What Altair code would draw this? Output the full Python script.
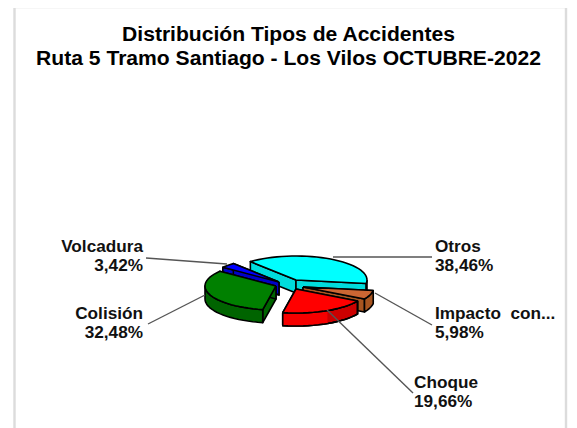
import math
import altair as alt
import pandas as pd

# ---- data ----
names = ["Otros", "Impacto\u00a0\u00a0con...", "Choque", "Colisión", "Volcadura"]
values = [38.46, 5.98, 19.66, 32.48, 3.42]
title_lines = ["Distribución Tipos de Accidentes", "Ruta 5 Tramo Santiago - Los Vilos OCTUBRE-2022"]

# ---- styling / layout ----
top_colors = ["#00ffff", "#cc6633", "#ff0000", "#008000", "#0000ff"]
wall_colors = ["#00dcdc", "#a85520", "#cc0000", "#006400", "#0000c8"]
wall_light = ["#00dcdc", "#a85520", "#f60000", "#007400", "#0000c8"]
apex_x = [296, 303, 296, 276, 279]
apex_y = [280, 287, 289, 286, 282]
draw_order = [0, 4, 3, 1, 2]
label_x = [435, 435, 414, 143, 143]
label_y = [247, 314, 383, 314, 247]
label_align = ["left", "left", "left", "right", "right"]
leader_from_x = [333, 375, 327, 205, 227]
leader_from_y = [257, 293, 310, 295, 264]
leader_to_x = [432, 432, 413, 148, 146]
leader_to_y = [257, 325, 393, 324, 258]
RX, RY, DEPTH = 71, 24, 13
START = -40.0
SHADE_SPLIT = 154
W, H = 561, 420

x_scale = alt.Scale(domain=[8, 8 + W], range=[0, W], nice=False, zero=False)
y_scale = alt.Scale(domain=[8, 8 + H], range=[0, H], nice=False, zero=False)


def rim(i, a, dz=0):
    r = math.radians(a)
    return apex_x[i] + RX * math.sin(r), apex_y[i] + RY * -math.cos(r) + dz


def angles(a0, a1, step=4):
    n = max(2, int(abs(a1 - a0) / step) + 1)
    return [a0 + (a1 - a0) * k / (n - 1) for k in range(n)]


def poly(pts, fill, stroke="#000000", sw=1.6):
    pts = list(pts) + [pts[0]]
    df = pd.DataFrame({"x": [p[0] for p in pts], "y": [p[1] for p in pts], "o": list(range(len(pts)))})
    return alt.Chart(df).mark_line(fill=fill, stroke=stroke, strokeWidth=sw, strokeJoin="round").encode(
        x=alt.X("x:Q", scale=x_scale, axis=None),
        y=alt.Y("y:Q", scale=y_scale, axis=None),
        order="o:Q",
    )


def band(i, lo, hi, fill, stroke="#000000", sw=1.6):
    arc = angles(lo, hi)
    return poly([rim(i, a) for a in arc] + [rim(i, a, DEPTH) for a in reversed(arc)], fill, stroke, sw)


layers = []

# frame
frame = pd.DataFrame({"x": [14.5, 14.5, 566, 566], "y": [8 + H, 7, 7, 8 + H], "o": [0, 1, 2, 3]})
layers.append(alt.Chart(frame).mark_line(stroke="#dcdcdc", strokeWidth=2.4, clip=False).encode(
    x=alt.X("x:Q", scale=x_scale, axis=None),
    y=alt.Y("y:Q", scale=y_scale, axis=None),
    order="o:Q",
))

# slices
total = sum(values)
bounds = [START]
for v in values:
    bounds.append(bounds[-1] + v / total * 360)

for i in draw_order:
    a0, a1 = bounds[i], bounds[i + 1]
    apex = (apex_x[i], apex_y[i])
    apex_low = (apex_x[i], apex_y[i] + DEPTH)
    for a in (a0, a1):
        layers.append(poly([apex, rim(i, a), rim(i, a, DEPTH), apex_low], wall_colors[i]))
    lo, hi = max(a0, 90), min(a1, 270)
    if hi > lo:
        layers.append(band(i, lo, hi, wall_colors[i]))
        if hi > SHADE_SPLIT and lo < SHADE_SPLIT:
            layers.append(band(i, SHADE_SPLIT, hi, wall_light[i], wall_light[i], 0.5))
            arc = angles(lo, hi)
            layers.append(poly([rim(i, a) for a in arc] + [rim(i, a, DEPTH) for a in reversed(arc)], "transparent"))
    layers.append(poly([apex] + [rim(i, a) for a in angles(a0, a1)], top_colors[i]))

# leaders
for i in range(len(names)):
    seg = pd.DataFrame({"x": [leader_from_x[i], leader_to_x[i]], "y": [leader_from_y[i], leader_to_y[i]], "o": [0, 1]})
    layers.append(alt.Chart(seg).mark_line(stroke="#555555", strokeWidth=1.4).encode(
        x=alt.X("x:Q", scale=x_scale, axis=None),
        y=alt.Y("y:Q", scale=y_scale, axis=None),
        order="o:Q",
    ))

# labels
rows = []
for i, n in enumerate(names):
    pct = f"{values[i]:.2f}".replace(".", ",") + "%"
    rows.append({"x": label_x[i], "y": label_y[i], "t": n, "a": label_align[i]})
    rows.append({"x": label_x[i], "y": label_y[i] + 19, "t": pct, "a": label_align[i]})
lab = pd.DataFrame(rows)
for al in ("left", "right"):
    layers.append(alt.Chart(lab[lab.a == al]).mark_text(
        align=al, baseline="middle", font="Liberation Sans", fontSize=17.2, fontWeight="bold", color="#111111"
    ).encode(
        x=alt.X("x:Q", scale=x_scale, axis=None),
        y=alt.Y("y:Q", scale=y_scale, axis=None),
        text="t:N",
    ))

# title
tt = pd.DataFrame({"x": [288.5, 288.5], "y": [35, 59], "t": title_lines})
layers.append(alt.Chart(tt).mark_text(
    align="center", baseline="middle", font="Liberation Sans", fontSize=21.1, fontWeight="bold", color="#000000"
).encode(
    x=alt.X("x:Q", scale=x_scale, axis=None),
    y=alt.Y("y:Q", scale=y_scale, axis=None),
    text="t:N",
))

chart = alt.layer(*layers).properties(
    width=W, height=H, padding=0, autosize=alt.AutoSizeParams(type="none"), background="white"
).configure_view(stroke=None)
chart.save("out.html", embed_options={"renderer": "svg", "actions": False})
